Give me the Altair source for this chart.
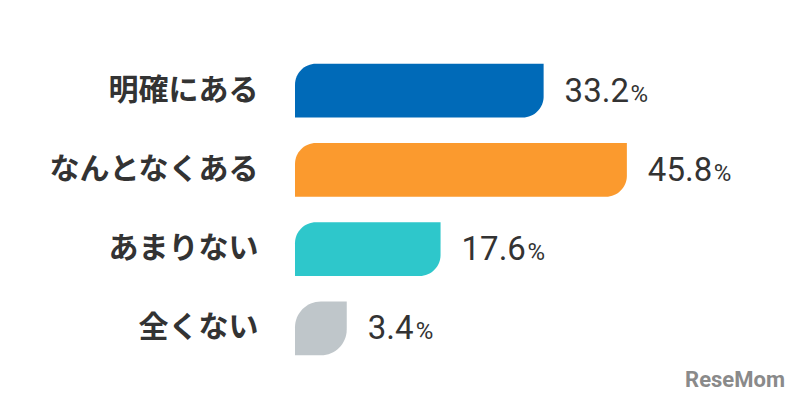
import altair as alt
import pandas as pd

categories = ["明確にある", "なんとなくある", "あまりない", "全くない"]
values = [33.2, 45.8, 17.6, 3.4]
colors = ["#006ab8", "#fb9a2e", "#2ec7cb", "#bfc6ca"]

df = pd.DataFrame({"cat": categories, "value": values, "color": colors, "pct": ["%"] * 4})

x0 = -4.43
x1 = 68.22

base = alt.Chart(df).encode(
    y=alt.Y("cat:N", sort=categories,
            scale=alt.Scale(paddingInner=0.32, paddingOuter=0.16),
            axis=alt.Axis(title=None, domain=False, ticks=False, labelPadding=37,
                          labelLimit=400,
                          labelFont="Noto Sans CJK JP", labelFontSize=30,
                          labelFontWeight="bold", labelColor="#333333", grid=False)),
)

xscale = alt.Scale(domain=[x0, x1], nice=False, zero=False)

bars = base.mark_bar(
    cornerRadiusTopLeft=alt.expr("datum.value < 10 ? 26 : 21"),
    cornerRadiusBottomRight=alt.expr("datum.value < 10 ? 26 : 21"),
).encode(
    x=alt.X("value:Q", scale=xscale, axis=None),
    x2=alt.X2(datum=x0),
    color=alt.Color("color:N", scale=None, legend=None),
)

nums = base.mark_text(align="left", baseline="alphabetic", dx=21, dy=11,
                      font="Roboto", fontSize=33, fontWeight="normal", color="#333333").encode(
    x=alt.X("value:Q", scale=xscale),
    text=alt.Text("value:Q", format=".1f"),
)

pcts = base.mark_text(align="left", baseline="alphabetic",
                      dx=alt.expr("datum.value >= 10 ? 87 : 69"), dy=11,
                      font="Roboto", fontSize=24, fontWeight="normal", color="#333333").encode(
    x=alt.X("value:Q", scale=xscale),
    text="pct:N",
)

logo = alt.Chart(pd.DataFrame({"t": ["ReseMom"]})).mark_text(
    align="right", baseline="alphabetic", font="Roboto", fontSize=22,
    fontWeight="bold", color="#8a8a8a").encode(
    x=alt.value(490), y=alt.value(336), text="t:N")

chart = alt.layer(bars, nums, pcts, logo).properties(
    width=480, height=317,
    autosize=alt.AutoSizeParams(type="none"),
    padding={"left": 287, "top": 43, "right": 17, "bottom": 27},
    background="white",
).configure_view(stroke=None)

chart.save("out.html", embed_options={"renderer": "svg", "actions": False})
